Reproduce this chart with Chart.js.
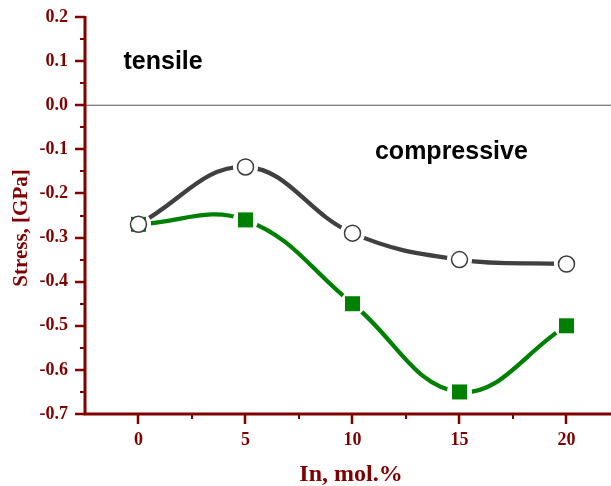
<!DOCTYPE html>
<html>
<head>
<meta charset="utf-8">
<script src="https://cdn.jsdelivr.net/npm/chart.js@4"></script>
<style>html,body{margin:0;padding:0;background:#fff;}canvas{display:block;}</style>
</head>
<body>
<canvas id="c" width="611" height="486"></canvas>
<script>
const categories = [0, 5, 10, 15, 20];
const seriesCircle = [-0.27, -0.14, -0.29, -0.35, -0.36];
const seriesSquare = [-0.27, -0.26, -0.45, -0.65, -0.50];
const xTicks = [0, 5, 10, 15, 20];
const xMinorTicks = [2.5, 7.5, 12.5, 17.5];
const yTicks = [0.2, 0.1, 0.0, -0.1, -0.2, -0.3, -0.4, -0.5, -0.6, -0.7];
const yMinorTicks = [0.15, 0.05, -0.05, -0.15, -0.25, -0.35, -0.45, -0.55, -0.65];
const xTitle = 'In, mol.%';
const yTitle = 'Stress, [GPa]';
const labelTensile = 'tensile';
const labelCompressive = 'compressive';

const AX = '#800000';
const pts = s => categories.map((x, i) => ({x: x, y: s[i]}));
const noPad = s => { s.paddingLeft = 0; s.paddingRight = 0; s.paddingTop = 0; s.paddingBottom = 0; };

const decor = {
  id: 'decor',
  beforeDatasetsDraw(chart) {
    const {ctx, chartArea: a, scales: {x, y}} = chart;
    ctx.save();
    const y0 = y.getPixelForValue(0);
    ctx.strokeStyle = '#555';
    ctx.lineWidth = 1;
    ctx.beginPath(); ctx.moveTo(a.left, y0); ctx.lineTo(a.right, y0); ctx.stroke();
    ctx.restore();
  },
  afterDraw(chart) {
    const {ctx, chartArea: a, scales: {x, y}} = chart;
    ctx.save();
    ctx.strokeStyle = AX;
    ctx.lineCap = 'butt';
    ctx.lineWidth = 2.5;
    ctx.beginPath();
    yTicks.forEach(v => { const p = Math.round(y.getPixelForValue(v)); ctx.moveTo(a.left, p); ctx.lineTo(a.left - 10, p); });
    xTicks.forEach(v => { const p = Math.round(x.getPixelForValue(v)); ctx.moveTo(p, a.bottom); ctx.lineTo(p, a.bottom + 10); });
    ctx.stroke();
    ctx.lineWidth = 2;
    ctx.beginPath();
    yMinorTicks.forEach(v => { const p = Math.round(y.getPixelForValue(v)); ctx.moveTo(a.left, p); ctx.lineTo(a.left - 5, p); });
    xMinorTicks.forEach(v => { const p = Math.round(x.getPixelForValue(v)); ctx.moveTo(p, a.bottom); ctx.lineTo(p, a.bottom + 5); });
    ctx.stroke();
    ctx.lineWidth = 3;
    ctx.beginPath();
    ctx.moveTo(a.left, a.top - 1); ctx.lineTo(a.left, a.bottom); ctx.lineTo(a.right, a.bottom);
    ctx.stroke();
    ctx.fillStyle = AX;
    ctx.font = 'bold 24px "Liberation Serif", "Times New Roman", serif';
    ctx.textAlign = 'center';
    ctx.textBaseline = 'alphabetic';
    ctx.fillText(xTitle, 351, 481);
    ctx.translate(27, 228);
    ctx.rotate(-Math.PI / 2);
    ctx.font = 'bold 21px "Liberation Serif", "Times New Roman", serif';
    ctx.fillText(yTitle, 0, 0);
    ctx.restore();
    ctx.save();
    ctx.fillStyle = '#000';
    ctx.font = 'bold 25px "Liberation Sans", Arial, sans-serif';
    ctx.textAlign = 'left';
    ctx.textBaseline = 'alphabetic';
    ctx.fillText(labelTensile, x.getPixelForValue(-0.7), y.getPixelForValue(0.082));
    ctx.fillText(labelCompressive, x.getPixelForValue(11.05), y.getPixelForValue(-0.1225));
    ctx.restore();
  }
};

new Chart(document.getElementById('c'), {
  type: 'scatter',
  data: {
    datasets: [
      {label: 'circ', data: pts(seriesCircle), showLine: false, pointStyle: 'circle', pointRadius: 8, pointHoverRadius: 8,
        backgroundColor: '#fff', borderColor: '#3c3c3c', pointBorderWidth: 1.5, order: 1},
      {label: 'sq', data: pts(seriesSquare), showLine: false, pointStyle: 'rect', pointRadius: 10.6, pointHoverRadius: 10.6,
        backgroundColor: '#008000', borderColor: '#008000', pointBorderWidth: 0, order: 2},
      {label: 'maskC', data: pts(seriesCircle), showLine: false, pointStyle: 'circle', pointRadius: 12.5,
        backgroundColor: '#fff', borderColor: '#fff', pointBorderWidth: 0, order: 3},
      {label: 'maskS', data: pts(seriesSquare), showLine: false, pointStyle: 'circle', pointRadius: 12.5,
        backgroundColor: '#fff', borderColor: '#fff', pointBorderWidth: 0, order: 4},
      {label: 'lineC', data: pts(seriesCircle), showLine: true, pointRadius: 0, borderColor: '#404040', borderWidth: 4.3,
        tension: 0.4, fill: false, order: 5},
      {label: 'lineS', data: pts(seriesSquare), showLine: true, pointRadius: 0, borderColor: '#008000', borderWidth: 4.3,
        tension: 0.4, fill: false, order: 6}
    ]
  },
  options: {
    responsive: false,
    animation: false,
    events: [],
    layout: {autoPadding: false, padding: {left: 0, top: 17, right: 0, bottom: 0}},
    plugins: {legend: {display: false}, tooltip: {enabled: false}},
    scales: {
      x: {
        type: 'linear', min: -2.5, max: 22.08,
        afterBuildTicks: s => { s.ticks = xTicks.map(v => ({value: v})); },
        afterFit: s => { s.height = 72; noPad(s); },
        grid: {display: false, drawTicks: false},
        border: {display: false},
        ticks: {padding: 16, color: AX, font: {family: '"Liberation Serif", "Times New Roman", serif', size: 18, weight: 'bold'},
          callback: v => String(v), maxRotation: 0, autoSkip: false}
      },
      y: {
        type: 'linear', min: -0.7, max: 0.2,
        afterBuildTicks: s => { s.ticks = yTicks.map(v => ({value: v})); },
        afterFit: s => { s.width = 85; noPad(s); },
        grid: {display: false, drawTicks: false},
        border: {display: false},
        ticks: {padding: 17, color: AX, font: {family: '"Liberation Serif", "Times New Roman", serif', size: 18, weight: 'bold'},
          callback: v => (Math.abs(v) < 1e-9 ? 0 : v).toFixed(1), autoSkip: false}
      }
    }
  },
  plugins: [decor]
});
</script>
</body>
</html>
